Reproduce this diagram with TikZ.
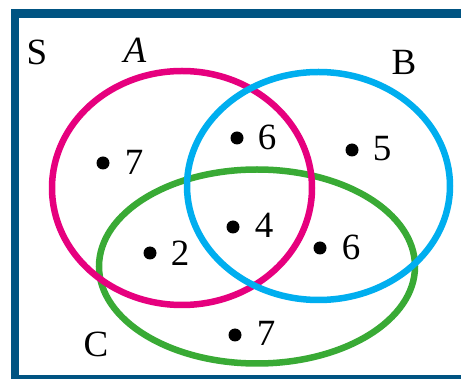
\documentclass[tikz,border=0pt]{standalone}
\usepackage{fontspec}
\setmainfont{Liberation Serif}
\definecolor{frame}{RGB}{0,84,130}
\definecolor{setA}{RGB}{230,0,126}
\definecolor{setB}{RGB}{0,174,239}
\definecolor{setC}{RGB}{57,170,53}
\begin{document}
\begin{tikzpicture}[x=1pt,y=-1pt,
  setline/.style={line width=6.5pt},
  pt/.style={circle,fill=black,inner sep=0pt,minimum size=13pt},
  num/.style={inner sep=0pt,font=\fontsize{37}{40}\selectfont},
  lab/.style={inner sep=0pt,font=\fontsize{37}{40}\selectfont}]
\useasboundingbox (0,0) rectangle (461,379);
\clip (0,0) rectangle (461,379);
\fill[white] (0,0) rectangle (461,379);
\draw[frame,line width=8.5pt] (15,13.5) rectangle (475,379);
% sets
\draw[setC,setline] (257,266.5) ellipse [x radius=158, y radius=97];
\draw[setA,setline] (182,188) ellipse [x radius=130, y radius=117];
\draw[setB,setline] (318.5,186) ellipse [x radius=131.5, y radius=114];
% labels
\node[lab] (S) at (37,52) {S};
\node[lab] (A) at (135,50) {\itshape A};
\node[lab] (B) at (404,62) {B};
\node[lab] (C) at (96,344) {C};
% elements
\node[pt] (d1) at (103,163) {};
\node[num] (n1) at (134,162) {7};
\node[pt] (d2) at (237,138) {};
\node[num] (n2) at (267,137) {6};
\node[pt] (d3) at (352,150) {};
\node[num] (n3) at (382,149) {5};
\node[pt] (d4) at (233,227) {};
\node[num] (n4) at (264,225) {4};
\node[pt] (d5) at (150,253) {};
\node[num] (n5) at (180,253) {2};
\node[pt] (d6) at (320,248) {};
\node[num] (n6) at (351,247) {6};
\node[pt] (d7) at (235,335) {};
\node[num] (n7) at (266,333) {7};
\end{tikzpicture}
\end{document}
